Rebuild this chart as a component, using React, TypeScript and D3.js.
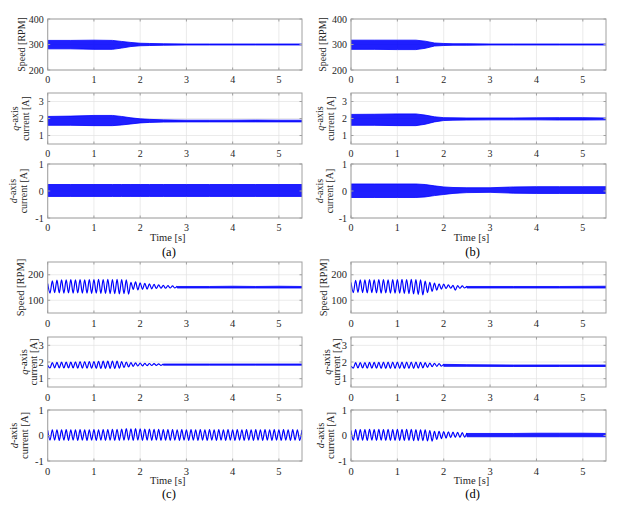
import * as d3 from 'd3';
import type { ReactNode } from 'react';

// shared time axis
const timeDomain: [number, number] = [0, 5.5];
const timeTicks = [0, 1, 2, 3, 4, 5];
const WAVE_STEP = 0.05; // spacing of the read-off extrema [s]

const speedTopDomain: [number, number] = [200, 400];
const speedTopTicks = [200, 300, 400];
const speedBottomDomain: [number, number] = [50, 250];
const speedBottomTicks = [100, 200];
const iqDomain: [number, number] = [0.5, 3.5];
const iqTicks = [1, 2, 3];
const idDomain: [number, number] = [-1, 1];
const idTicks = [-1, 0, 1];

// envelope knots for the dense ripple of (a) and (b)
const bandTimes = [0, 0.5, 1.0, 1.4, 1.6, 1.8, 2.0, 2.2, 2.5, 3.0, 3.5, 4.0, 4.5, 5.0, 5.5];

const aSpeedLo = [283, 283, 281, 281, 286, 292, 295, 296, 297, 298, 298, 298, 298, 298, 298];
const aSpeedHi = [316, 316, 317, 316, 312, 308, 305, 304, 303, 302, 302, 302, 302, 302, 302];
const aIqLo = [1.6, 1.6, 1.58, 1.58, 1.62, 1.68, 1.74, 1.77, 1.79, 1.8, 1.8, 1.8, 1.8, 1.8, 1.8];
const aIqHi = [2.12, 2.14, 2.18, 2.18, 2.12, 2.04, 1.98, 1.95, 1.92, 1.9, 1.9, 1.9, 1.91, 1.9, 1.9];
const aIdLo = [-0.2, -0.2, -0.2, -0.2, -0.2, -0.2, -0.2, -0.2, -0.2, -0.2, -0.2, -0.2, -0.2, -0.2, -0.2];
const aIdHi = [0.24, 0.24, 0.24, 0.24, 0.24, 0.24, 0.24, 0.24, 0.24, 0.24, 0.24, 0.24, 0.24, 0.24, 0.24];

const bSpeedLo = [281, 281, 280, 280, 285, 294, 296, 297, 297, 298, 298, 298, 298, 298, 298];
const bSpeedHi = [317, 317, 317, 317, 313, 306, 304, 303, 303, 302, 302, 302, 302, 302, 302];
const bIqLo = [1.6, 1.6, 1.58, 1.58, 1.66, 1.8, 1.88, 1.9, 1.91, 1.92, 1.92, 1.92, 1.91, 1.91, 1.92];
const bIqHi = [2.24, 2.25, 2.27, 2.27, 2.2, 2.1, 2.05, 2.04, 2.03, 2.03, 2.03, 2.04, 2.05, 2.05, 2.03];
const bIdLo = [-0.24, -0.24, -0.24, -0.24, -0.22, -0.17, -0.13, -0.09, -0.06, -0.05, -0.08, -0.09, -0.09, -0.09, -0.09];
const bIdHi = [0.26, 0.26, 0.26, 0.26, 0.24, 0.19, 0.15, 0.13, 0.12, 0.12, 0.15, 0.16, 0.16, 0.16, 0.16];

// (c) and (d): visible oscillation, extrema every WAVE_STEP from t = 0
const cSpeedWave = [
  165, 128, 176, 130, 179, 129, 180, 128, 180, 129,
  181, 128, 180, 129, 181, 128, 180, 128, 181, 127,
  181, 128, 182, 127, 181, 127, 182, 126, 181, 126,
  182, 125, 181, 126, 180, 124, 170, 143, 172, 141,
  168, 143, 166, 144, 164, 145, 162, 146, 160, 147,
  158, 147, 157, 148, 156, 148, 155,
];
const cSpeedBandT = [2.8, 3.5, 4.0, 4.5, 5.0, 5.5];
const cSpeedLo = [148, 148, 148, 148, 148, 148];
const cSpeedHi = [154, 154, 155, 154, 155, 154];

const cIqWave = [
  1.8, 1.64, 1.97, 1.65, 1.98, 1.65, 1.99, 1.64, 2.0, 1.64,
  2.0, 1.64, 2.01, 1.63, 2.02, 1.63, 2.02, 1.63, 2.03, 1.63,
  2.03, 1.63, 2.04, 1.62, 2.05, 1.62, 2.05, 1.62, 2.06, 1.62,
  2.05, 1.63, 2.03, 1.66, 2.0, 1.7, 1.97, 1.74, 1.95, 1.76,
  1.94, 1.77, 1.92, 1.78, 1.91, 1.79, 1.9, 1.8, 1.89, 1.8, 1.88,
];
const cIqBandT = [2.5, 3.5, 4.5, 5.5];
const cIqLo = [1.81, 1.81, 1.81, 1.81];
const cIqHi = [1.88, 1.88, 1.88, 1.88];

const cIdWave = [
  0.2, -0.18, 0.22, -0.18, 0.22, -0.19, 0.22, -0.18, 0.23, -0.19,
  0.22, -0.18, 0.22, -0.19, 0.23, -0.18, 0.22, -0.19, 0.22, -0.18,
  0.23, -0.19, 0.22, -0.18, 0.23, -0.19, 0.23, -0.18, 0.24, -0.19,
  0.24, -0.19, 0.25, -0.18, 0.27, -0.18, 0.26, -0.19, 0.27, -0.18,
  0.26, -0.19, 0.25, -0.18, 0.25, -0.19, 0.24, -0.18, 0.24, -0.19,
  0.23, -0.18, 0.23, -0.19, 0.23, -0.18, 0.22, -0.19, 0.23, -0.18,
  0.22, -0.19, 0.23, -0.18, 0.22, -0.19, 0.23, -0.18, 0.22, -0.19,
  0.23, -0.18, 0.22, -0.19, 0.23, -0.18, 0.22, -0.19, 0.23, -0.18,
  0.22, -0.19, 0.23, -0.18, 0.22, -0.19, 0.23, -0.18, 0.22, -0.19,
  0.23, -0.18, 0.22, -0.19, 0.23, -0.18, 0.22, -0.19, 0.23, -0.18,
  0.22, -0.19, 0.23, -0.18, 0.22, -0.19, 0.23, -0.18, 0.22, -0.19,
  0.22,
];

const dSpeedWave = [
  170, 130, 178, 131, 180, 130, 180, 129, 181, 130,
  180, 129, 181, 128, 181, 129, 180, 128, 181, 128,
  181, 128, 182, 127, 181, 126, 182, 125, 181, 123,
  180, 121, 175, 130, 170, 135, 167, 140, 164, 144,
  163, 146, 160, 147, 158, 140, 157, 147, 156, 148, 155,
];
const dSpeedBandT = [2.5, 3.5, 4.5, 5.5];
const dSpeedLo = [148, 148, 148, 148];
const dSpeedHi = [154, 154, 154, 155];

const dIqWave = [
  1.75, 1.63, 1.96, 1.64, 1.97, 1.64, 1.97, 1.63, 1.98, 1.63,
  1.98, 1.63, 1.98, 1.62, 1.99, 1.62, 1.99, 1.62, 2.0, 1.62,
  2.0, 1.62, 2.0, 1.61, 2.0, 1.62, 2.0, 1.62, 1.99, 1.63,
  1.98, 1.65, 1.96, 1.68, 1.94, 1.72, 1.92, 1.74, 1.9, 1.75, 1.88,
];
const dIqBandT = [2.0, 2.5, 3.5, 4.5, 5.5];
const dIqLo = [1.74, 1.74, 1.73, 1.73, 1.73];
const dIqHi = [1.86, 1.84, 1.82, 1.82, 1.82];

const dIdWave = [
  0.2, -0.18, 0.23, -0.19, 0.23, -0.18, 0.23, -0.19, 0.24, -0.18,
  0.23, -0.19, 0.24, -0.18, 0.23, -0.19, 0.24, -0.19, 0.23, -0.19,
  0.24, -0.19, 0.24, -0.19, 0.24, -0.19, 0.24, -0.2, 0.23, -0.2,
  0.22, -0.2, 0.22, -0.21, 0.19, -0.22, 0.16, -0.15, 0.16, -0.12,
  0.15, -0.1, 0.14, -0.08, 0.13, -0.07, 0.12, -0.07, 0.11, -0.06, 0.1,
];
const dIdBandT = [2.5, 3.0, 3.5, 4.0, 4.5, 5.0, 5.5];
const dIdLo = [-0.05, -0.05, -0.05, -0.05, -0.05, -0.05, -0.05];
const dIdHi = [0.08, 0.08, 0.08, 0.09, 0.09, 0.09, 0.08];

type Band = { t: number[]; lo: number[]; hi: number[] };
type Series = { wave?: number[]; band?: Band };

const FONT = '"Liberation Serif", "Times New Roman", Times, serif';
const BLUE = '#0000ff';
const BOX = '#a0a0a0';
const TXT = '#262626';

interface PanelProps {
  id: string;
  x0: number;
  x1: number;
  y0: number;
  y1: number;
  domain: [number, number];
  ticks: number[];
  series: Series;
  labels: ReactNode[];
  labelX: number[];
  fs: number;
  tickDy: number;
}

function Panel({ id, x0, x1, y0, y1, domain, ticks, series, labels, labelX, fs, tickDy }: PanelProps) {
  const x = d3.scaleLinear().domain(timeDomain).range([x0, x1]);
  const y = d3.scaleLinear().domain(domain).range([y1, y0]);

  const wavePts: [number, number][] = (series.wave ?? []).map((v, i) => [i * WAVE_STEP, v]);
  const line = d3
    .line<[number, number]>()
    .x((d) => x(d[0]))
    .y((d) => y(d[1]))
    .curve(d3.curveMonotoneX);

  const band = series.band;
  const area = d3
    .area<number>()
    .x((_, i) => x(band!.t[i]))
    .y0((_, i) => y(band!.lo[i]))
    .y1((_, i) => y(band!.hi[i]));

  const cy = (y0 + y1) / 2;
  const tl = 2.5;
  const txt = { fontSize: fs, fill: TXT, fontFamily: FONT };

  return (
    <g>
      <defs>
        <clipPath id={id}>
          <rect x={x0} y={y0} width={x1 - x0} height={y1 - y0} />
        </clipPath>
      </defs>
      <rect x={x0} y={y0} width={x1 - x0} height={y1 - y0} fill="#fff" />
      {timeTicks.map((t) => (
        <line key={'gx' + t} x1={x(t)} x2={x(t)} y1={y0} y2={y1} stroke="#e3e3e3" strokeWidth={0.7} />
      ))}
      {ticks.map((v) => (
        <line key={'gy' + v} x1={x0} x2={x1} y1={y(v)} y2={y(v)} stroke="#e3e3e3" strokeWidth={0.7} />
      ))}
      <g clipPath={`url(#${id})`}>
        {band && (
          <path
            d={area(band.t) ?? ''}
            fill={BLUE}
            fillOpacity={0.88}
            stroke={BLUE}
            strokeWidth={0.8}
            strokeLinejoin="round"
          />
        )}
        {wavePts.length > 0 && (
          <path d={line(wavePts) ?? ''} fill="none" stroke={BLUE} strokeWidth={1.2} strokeLinejoin="round" />
        )}
      </g>
      <rect x={x0} y={y0} width={x1 - x0} height={y1 - y0} fill="none" stroke={BOX} strokeWidth={1} />
      {timeTicks.map((t) => (
        <g key={'tx' + t}>
          <line x1={x(t)} x2={x(t)} y1={y1} y2={y1 - tl} stroke={BOX} />
          <line x1={x(t)} x2={x(t)} y1={y0} y2={y0 + tl} stroke={BOX} />
          <text x={x(t)} y={y1 + tickDy} textAnchor="middle" dominantBaseline="central" style={txt}>
            {t}
          </text>
        </g>
      ))}
      {ticks.map((v) => (
        <g key={'ty' + v}>
          <line x1={x0} x2={x0 + tl} y1={y(v)} y2={y(v)} stroke={BOX} />
          <line x1={x1} x2={x1 - tl} y1={y(v)} y2={y(v)} stroke={BOX} />
          <text x={x0 - 4} y={y(v)} textAnchor="end" dominantBaseline="central" style={txt}>
            {v}
          </text>
        </g>
      ))}
      {labels.map((lab, i) => (
        <text
          key={'lab' + i}
          transform={`translate(${labelX[i]},${cy}) rotate(-90)`}
          textAnchor="middle"
          dominantBaseline="central"
          style={txt}
        >
          {lab}
        </text>
      ))}
    </g>
  );
}

interface FigureProps {
  tag: string;
  x0: number;
  x1: number;
  rows: [number, number][];
  speedDomain: [number, number];
  speedTicks: number[];
  series: Series[];
  offsets: number[][]; // y-label x offsets from the left edge, per panel
  fs: number;
  tickDy: number;
  timeY: number;
  tagY: number;
}

function Figure({ tag, x0, x1, rows, speedDomain, speedTicks, series, offsets, fs, tickDy, timeY, tagY }: FigureProps) {
  const domains: [number, number][] = [speedDomain, iqDomain, idDomain];
  const ticks = [speedTicks, iqTicks, idTicks];
  const labels: ReactNode[][] = [
    ['Speed [RPM]'],
    [
      <>
        <tspan fontStyle="italic">q</tspan>-axis
      </>,
      'current [A]',
    ],
    [
      <>
        <tspan fontStyle="italic">d</tspan>-axis
      </>,
      'current [A]',
    ],
  ];
  const cx = (x0 + x1) / 2 - 7;
  return (
    <g>
      {rows.map((r, i) => (
        <Panel
          key={i}
          id={`clip-${tag}-${i}`}
          x0={x0}
          x1={x1}
          y0={r[0]}
          y1={r[1]}
          domain={domains[i]}
          ticks={ticks[i]}
          series={series[i]}
          labels={labels[i]}
          labelX={offsets[i].map((o) => x0 + o)}
          fs={fs}
          tickDy={tickDy}
        />
      ))}
      <text
        x={cx}
        y={timeY}
        textAnchor="middle"
        dominantBaseline="central"
        style={{ fontSize: 10.5, fill: TXT, fontFamily: FONT }}
      >
        Time [s]
      </text>
      <text
        x={cx + 1}
        y={tagY}
        textAnchor="middle"
        dominantBaseline="central"
        style={{ fontSize: 12.5, fill: '#000', fontFamily: FONT }}
      >
        ({tag})
      </text>
    </g>
  );
}

const LEFT: [number, number] = [47.7, 302];
const RIGHT: [number, number] = [351, 606];
const ROWS_TOP: [number, number][] = [
  [19, 70],
  [93, 144],
  [164, 218],
];
const ROWS_BOTTOM: [number, number][] = [
  [262, 313],
  [337, 387],
  [410, 461],
];

export default function App() {
  const band = (t: number[], lo: number[], hi: number[]): Band => ({ t, lo, hi });
  return (
    <svg
      width={619}
      height={509}
      viewBox="0 0 619 509"
      style={{ position: 'absolute', left: 0, top: 0, background: '#fff', fontFamily: FONT }}
    >
      <rect width={619} height={509} fill="#fff" />
      <Figure
        tag="a"
        x0={LEFT[0]}
        x1={LEFT[1]}
        rows={ROWS_TOP}
        speedDomain={speedTopDomain}
        speedTicks={speedTopTicks}
        series={[
          { band: band(bandTimes, aSpeedLo, aSpeedHi) },
          { band: band(bandTimes, aIqLo, aIqHi) },
          { band: band(bandTimes, aIdLo, aIdHi) },
        ]}
        offsets={[[-26], [-33, -22.5], [-35, -24]]}
        fs={10}
        tickDy={9}
        timeY={237}
        tagY={252}
      />
      <Figure
        tag="b"
        x0={RIGHT[0]}
        x1={RIGHT[1]}
        rows={ROWS_TOP}
        speedDomain={speedTopDomain}
        speedTicks={speedTopTicks}
        series={[
          { band: band(bandTimes, bSpeedLo, bSpeedHi) },
          { band: band(bandTimes, bIqLo, bIqHi) },
          { band: band(bandTimes, bIdLo, bIdHi) },
        ]}
        offsets={[[-28.5], [-31.5, -21], [-32, -22]]}
        fs={10}
        tickDy={9}
        timeY={237}
        tagY={252}
      />
      <Figure
        tag="c"
        x0={LEFT[0]}
        x1={LEFT[1]}
        rows={ROWS_BOTTOM}
        speedDomain={speedBottomDomain}
        speedTicks={speedBottomTicks}
        series={[
          { wave: cSpeedWave, band: band(cSpeedBandT, cSpeedLo, cSpeedHi) },
          { wave: cIqWave, band: band(cIqBandT, cIqLo, cIqHi) },
          { wave: cIdWave },
        ]}
        offsets={[[-27], [-24, -14.5], [-34, -23]]}
        fs={10.5}
        tickDy={10}
        timeY={480}
        tagY={494}
      />
      <Figure
        tag="d"
        x0={RIGHT[0]}
        x1={RIGHT[1]}
        rows={ROWS_BOTTOM}
        speedDomain={speedBottomDomain}
        speedTicks={speedBottomTicks}
        series={[
          { wave: dSpeedWave, band: band(dSpeedBandT, dSpeedLo, dSpeedHi) },
          { wave: dIqWave, band: band(dIqBandT, dIqLo, dIqHi) },
          { wave: dIdWave, band: band(dIdBandT, dIdLo, dIdHi) },
        ]}
        offsets={[[-28], [-24.5, -15], [-31, -20.5]]}
        fs={10.5}
        tickDy={10}
        timeY={480}
        tagY={494}
      />
    </svg>
  );
}
